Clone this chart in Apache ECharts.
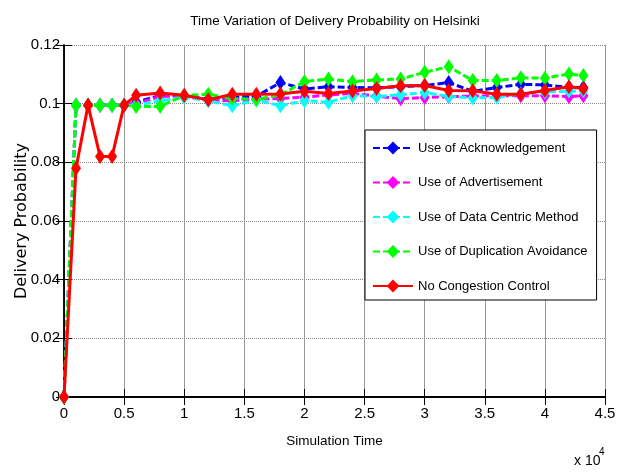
<!DOCTYPE html>
<html>
<head>
<meta charset="utf-8">
<title>Time Variation of Delivery Probability on Helsinki</title>
<script src="https://cdn.jsdelivr.net/npm/echarts@6/dist/echarts.min.js"></script>
<style>
  html, body { margin: 0; padding: 0; background: #fff; }
  #chart { width: 627px; height: 473px; }
</style>
</head>
<body>
<div id="chart"></div>
<script>
// simulation time (s)
const times = [0, 1000, 2000, 3000, 4000, 5000, 6000, 8000, 10000, 12000, 14000, 16000, 18000,
  20000, 22000, 24000, 26000, 28000, 30000, 32000, 34000, 36000, 38000, 40000, 42000, 43200];

const acknowledgement = [0, 0.0995, 0.0995, 0.0995, 0.0995, 0.0995, 0.1005, 0.1028, 0.1027, 0.1015, 0.1022, 0.1025, 0.1072,
  0.1050, 0.1058, 0.1055, 0.1054, 0.1058, 0.1062, 0.1072, 0.1042, 0.1055, 0.1066, 0.1064, 0.1055, 0.1055];
const advertisement = [0, 0.0995, 0.0995, 0.0995, 0.0995, 0.0995, 0.1000, 0.1025, 0.1025, 0.1012, 0.1010, 0.1015, 0.1018,
  0.1022, 0.1030, 0.1035, 0.1026, 0.1017, 0.1021, 0.1024, 0.1026, 0.1027, 0.1027, 0.1027, 0.1024, 0.1027];
const dataCentric = [0, 0.0995, 0.0995, 0.0995, 0.0995, 0.0995, 0.0995, 0.1010, 0.1022, 0.1010, 0.0993, 0.1012, 0.0993,
  0.1010, 0.1005, 0.1027, 0.1025, 0.1030, 0.1038, 0.1025, 0.1019, 0.1022, 0.1034, 0.1040, 0.1043, 0.1044];
const duplicationAvoidance = [0, 0.0995, 0.0995, 0.0995, 0.0995, 0.0995, 0.0990, 0.0991, 0.1028, 0.1032, 0.1018, 0.1015, 0.1030,
  0.1075, 0.1084, 0.1075, 0.1081, 0.1084, 0.1107, 0.1126, 0.1079, 0.1079, 0.1088, 0.1087, 0.1101, 0.1096];
const noControl = [0, 0.078, 0.0995, 0.082, 0.082, 0.0995, 0.1029, 0.1036, 0.1029, 0.1013, 0.1032, 0.1032, 0.1033,
  0.1042, 0.1035, 0.1043, 0.1052, 0.1061, 0.1062, 0.1045, 0.1044, 0.1032, 0.1032, 0.1045, 0.1058, 0.1052];

const seriesNames = ['Use of Acknowledgement', 'Use of Advertisement', 'Use of Data Centric Method',
  'Use of Duplication Avoidance', 'No Congestion Control'];
const xTicks = ['0', '0.5', '1', '1.5', '2', '2.5', '3', '3.5', '4', '4.5'];

const font = "'Liberation Sans', Arial, sans-serif";

const pairs = (ys) => times.map((t, i) => [t, ys[i]]);

const makeSeries = (name, ys, color, dashed) => ({
  name: name,
  type: 'line',
  data: pairs(ys),
  symbol: 'diamond',
  symbolSize: [10, 15],
  showSymbol: true,
  itemStyle: { color: color },
  lineStyle: { color: color, width: 3, type: dashed ? [7, 3] : 'solid' },
  emphasis: { disabled: true },
  z: dashed ? 2 : 3
});

const boxAxis = {
  axisLine: { show: true, lineStyle: { color: '#000', width: 1.5 } },
  axisTick: { show: true, inside: true, length: 8, lineStyle: { color: '#000' } },
  axisLabel: { show: false },
  splitLine: { show: false }
};

const options = {
  animation: false,
  backgroundColor: '#fff',
  title: {
    text: 'Time Variation of Delivery Probability on Helsinki',
    left: 330,
    top: 9,
    textAlign: 'center',
    textStyle: { fontFamily: font, fontSize: 13.5, fontWeight: 'normal', color: '#000' }
  },
  grid: { left: 64, right: 22, top: 45, bottom: 76, containLabel: false, outerBoundsMode: 'none' },
  legend: {
    orient: 'vertical',
    left: 365,
    top: 130,
    padding: [10, 9, 6, 7],
    itemWidth: 40,
    itemHeight: 16,
    itemGap: 18.5,
    borderColor: '#000',
    borderWidth: 1,
    backgroundColor: '#fff',
    selectedMode: false,
    data: seriesNames,
    textStyle: { fontFamily: font, fontSize: 13, color: '#000', lineHeight: 16 }
  },
  xAxis: [
    {
      type: 'value',
      min: 0,
      max: 45000,
      interval: 5000,
      name: 'Simulation Time',
      nameLocation: 'middle',
      nameGap: 37,
      nameTextStyle: { fontFamily: font, fontSize: 13.5, color: '#000' },
      axisLine: { show: true, lineStyle: { color: '#000', width: 2 } },
      axisTick: { show: true, inside: true, length: 8, lineStyle: { color: '#000' } },
      axisLabel: {
        fontFamily: font, fontSize: 15, color: '#000', margin: 9,
        formatter: (v) => xTicks[Math.round(v / 5000)]
      },
      splitLine: { show: true, lineStyle: { color: '#999', width: 1, type: 'solid' } }
    },
    Object.assign({ type: 'value', position: 'top', min: 0, max: 45000, interval: 5000 }, boxAxis)
  ],
  yAxis: [
    {
      type: 'value',
      min: 0,
      max: 0.12,
      interval: 0.02,
      name: 'Delivery Probability',
      nameLocation: 'middle',
      nameGap: 34,
      nameMoveOverlap: false,
      nameTextStyle: { fontFamily: "'DejaVu Sans', sans-serif", fontSize: 16, color: '#000' },
      axisLine: { show: true, lineStyle: { color: '#000', width: 1.5 } },
      axisTick: { show: true, inside: true, length: 8, lineStyle: { color: '#000' } },
      axisLabel: {
        fontFamily: font, fontSize: 15, color: '#000', margin: 4,
        formatter: (v) => String(Math.round(v * 100) / 100)
      },
      splitLine: { show: true, lineStyle: { color: '#888', width: 1, type: 'dotted' } }
    },
    Object.assign({ type: 'value', position: 'right', min: 0, max: 0.12, interval: 0.02 }, boxAxis)
  ],
  graphic: [
    {
      type: 'text', left: 574, top: 454,
      style: { text: 'x 10', font: '14px ' + font, fill: '#000' }
    },
    {
      type: 'text', left: 599, top: 447,
      style: { text: '4', font: '10px ' + font, fill: '#000' }
    }
  ],
  series: [
    makeSeries(seriesNames[0], acknowledgement, '#0000ff', true),
    makeSeries(seriesNames[1], advertisement, '#ff00ff', true),
    makeSeries(seriesNames[2], dataCentric, '#00ffff', true),
    makeSeries(seriesNames[3], duplicationAvoidance, '#00ff00', true),
    makeSeries(seriesNames[4], noControl, '#ff0000', false)
  ]
};

const chart = echarts.init(document.getElementById('chart'));
chart.setOption(options);
</script>
</body>
</html>
